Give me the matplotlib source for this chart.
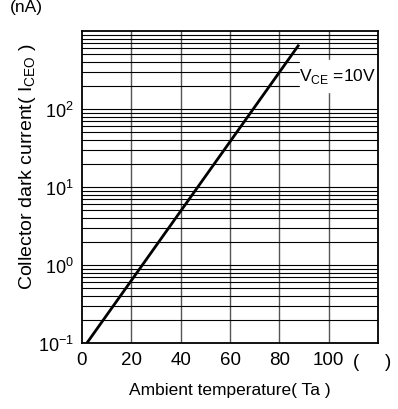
import numpy as np
import matplotlib.pyplot as plt

plt.rcParams['font.family'] = ['Liberation Sans', 'DejaVu Sans']
plt.rcParams['mathtext.fontset'] = 'custom'
plt.rcParams['mathtext.rm'] = 'Liberation Sans'

# curve end points (Ta in deg C, Iceo in nA)
ta = [2, 87.6]
iceo = [0.1, 645]
x_ticks = [0, 20, 40, 60, 80, 100]
y_ticks = [0.1, 1, 10, 100]
y_tick_labels = ["$\\mathregular{10^{-1}}$", "$\\mathregular{10^{0}}$",
                 "$\\mathregular{10^{1}}$", "$\\mathregular{10^{2}}$"]

fig = plt.figure(figsize=(3.98, 4.10), dpi=100)
ax = fig.add_axes([0.206, 0.161, 0.744, 0.761])

ax.set_yscale("log")
ax.set_xlim(0, 120)
ax.set_ylim(0.1, 1000)

# grid
for x in range(20, 120, 20):
    ax.axvline(x, color="#555555", lw=1.0, zorder=1)
for dec in [0.1, 1, 10, 100]:
    for m in range(2, 10):
        ax.axhline(dec * m, color="black", lw=0.8, zorder=1)
    if dec > 0.1:
        ax.axhline(dec, color="black", lw=0.8, zorder=1)

ax.plot(ta, iceo, color="black", lw=2.0, zorder=3)

ax.set_xticks(x_ticks)
ax.set_xticklabels([str(v) for v in x_ticks], fontsize=13.5)
ax.set_yticks(y_ticks)
ax.set_yticklabels(y_tick_labels, fontsize=13)
ax.yaxis.set_minor_locator(plt.NullLocator())
ax.tick_params(length=0, pad=6)
for s in ax.spines.values():
    s.set_linewidth(1.3)

fig.text(356 / 398, 1 - 363 / 410, "(", fontsize=13.5, ha="center", va="center")
fig.text(388 / 398, 1 - 363 / 410, ")", fontsize=13.5, ha="center", va="center")

# white label box for the condition
ax.fill_between([88.4, 120], [165, 165], [425, 425], color="white", zorder=2)
ax.text(119, 270, "V$_{\\mathregular{CE}}$ =10V", fontsize=12.5, ha="right", va="center",
        zorder=4)

ax.set_xlabel("Ambient temperature( Ta )", fontsize=12.5, labelpad=10)
fig.text(0.07, 1 - 167 / 410, "Collector dark current( I$_{\\mathregular{CEO}}$ )",
         rotation=90, fontsize=14, ha="center", va="center")
fig.text(0.025, 1.0, "(nA)", fontsize=12.5, ha="left", va="top")

plt.savefig("out.png", dpi=100)
